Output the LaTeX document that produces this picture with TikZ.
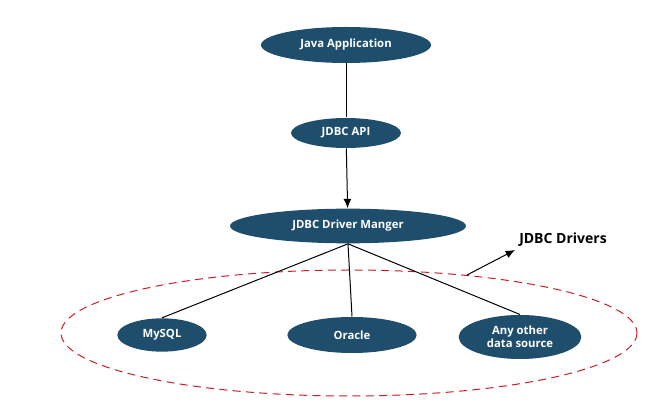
\documentclass[tikz,border=0pt]{standalone}
\usepackage{fontspec}
\setmainfont{Open Sans}
\tikzset{every picture/.style={line width=0.75pt}}
\tikzset{
  blob/.style={ellipse, fill={rgb,255:red,31;green,78;blue,109}, text=white, font=\fontsize{8.5}{10}\selectfont\bfseries, inner sep=0pt, align=center},
}
\usetikzlibrary{shapes.geometric,arrows.meta}
\begin{document}
\begin{tikzpicture}[x=0.75pt,y=0.75pt,yscale=-1,xscale=1]
	\useasboundingbox (0,0) rectangle (650,409);

	% Driver ring
	\draw [color={rgb,255:red,200;green,30;blue,40}, dash pattern={on 6pt off 4pt}] (349,333) ellipse (288 and 63);

	% Nodes
	\node [blob, minimum width=127.5pt, minimum height=27pt] (java) at (346,45) {Java Application};
	\node [blob, minimum width=82.5pt, minimum height=22.5pt] (api) at (346,133) {JDBC API};
	\node [blob, minimum width=177pt, minimum height=26pt] (mgr) at (348,226) {JDBC Driver Manger};
	\node [blob, minimum width=67pt, minimum height=25pt] (mysql) at (162,335) {MySQL};
	\node [blob, minimum width=97pt, minimum height=27pt] (oracle) at (352,335) {Oracle};
	\node [blob, minimum width=92pt, minimum height=33pt] (other) at (520,337) {Any other\\data source};

	% Connectors
	\draw (java) -- (api);
	\draw [-{Latex[length=7pt,width=6pt]}] (api) -- (mgr);
	\draw (mgr.south) -- (mysql.north);
	\draw (mgr.south) -- (oracle.north);
	\draw (mgr.south) -- (other.north);

	% Label
	\coordinate (tail) at (467,275);
	\coordinate (tip) at (515,250);
	\draw [-{Latex[length=7pt,width=6pt]}] (tail) -- (tip);
	\node [font=\fontsize{10.5}{12}\selectfont\bfseries] (lbl) at (563,240) {JDBC Drivers};
\end{tikzpicture}
\end{document}
